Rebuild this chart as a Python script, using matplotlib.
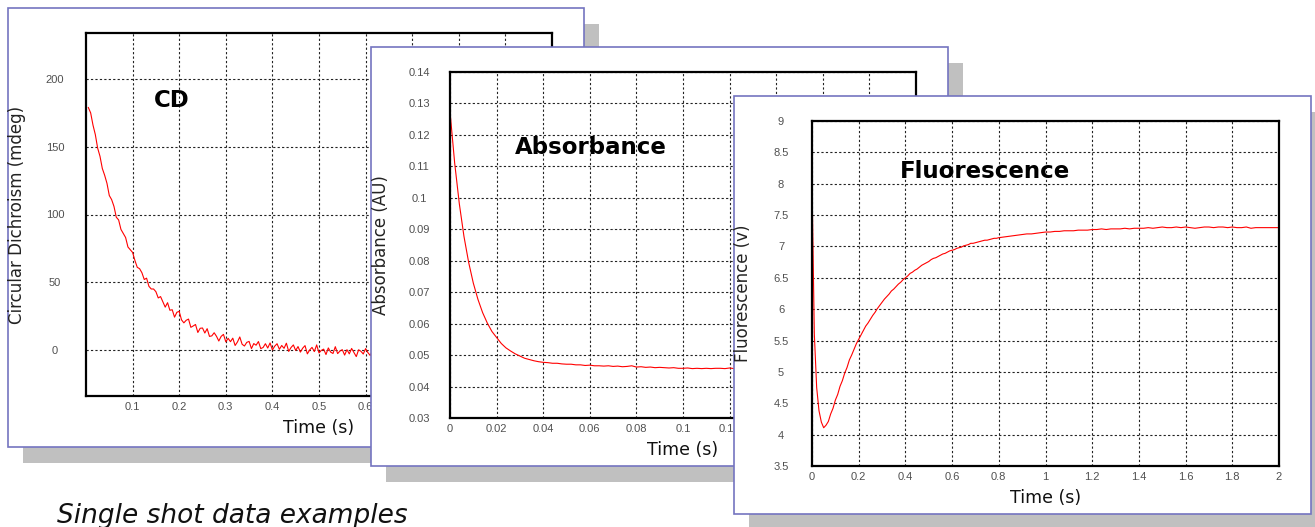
import numpy as np
import matplotlib
matplotlib.use("Agg")
import matplotlib.pyplot as plt
from matplotlib.patches import Rectangle
from matplotlib.ticker import FixedLocator, FuncFormatter

# ---------------------------------------------------------------- data
# Circular dichroism trace (mdeg), sampled every 5 ms
cd_time = np.arange(1, 201) * 0.005
cd_signal = [
    179, 175, 166, 159, 149, 143, 134, 129, 123, 114,
    111, 106, 98, 96, 89, 86, 83, 76, 74, 72,
    66, 61, 60, 57, 52, 53, 47, 45, 45, 43,
    38.4, 39.4, 35.5, 31.6, 34.9, 29.3, 29.7, 24.2, 27.8, 28.5,
    22.2, 20, 21.9, 22.8, 16.7, 17.7, 18.8, 12.9, 16, 16.2,
    12.5, 15.7, 10, 10.4, 12.7, 10.1, 6.6, 10, 11.5, 6,
    8.6, 6.1, 8.7, 3.3, 5.9, 9.6, 4.2, 2.9, 5.6, 6.3,
    1, 4.7, 3.5, 6.2, 1, 1.8, 4.6, 1.4, 5.2, 0,
    2.8, 4.6, 0.5, 3.3, 1.2, 5.0, -1.1, 1.8, 3.7, -0.4,
    2.5, -1.6, 1.3, 3.2, -2.9, 0, 1.9, -1.2, 3.7, -2.2,
    -0.3, 0.6, -3.4, 1.5, -1.6, -2.6, 2.4, -2.7, -0.8, 0.2,
    -3.8, 0.2, -2.9, 1.1, -1.9, -4.9, 0.1, -1, -3, 1,
    -2, -4.1, -0.1, -3.1, 1.9, -2.2, -3.2, -1.2, -5.2, -0.2,
    -2.3, 0.7, -4.3, -1.3, -3.3, -0.3, -2.3, -4.3, 0.7, -3.3,
    -1.4, -2.4, -5.4, -0.4, -3.4, 0.6, -4.4, -2.4, -0.4, -3.4,
    -2.5, -4.5, -1.5, 0.5, -3.5, -2.5, -5.5, -0.5, -3.5, -1.5,
    -0.5, -4.5, -2.5, 0.5, -3.5, -1.5, -4.5, -0.5, -2.5, -3.5,
    0.5, -2.5, -4.5, -1.5, -3.5, -0.5, -2.5, -5.5, -1.5, -2.5,
    -0.5, -3.5, -1.5, -4.5, 0.5, -2.5, -3.5, -0.5, -4.5, -1.5,
    -2.5, 0.5, -3.5, -2.5, -0.5, -4.5, -1.5, -2.5, 0.5, -3.5,
]

# Absorbance trace (AU), sampled every 2 ms
abs_time = np.arange(101) * 0.002
abs_signal = [
    0.1274, 0.1111, 0.0981, 0.0877, 0.0795, 0.0729, 0.0677, 0.0635, 0.0602, 0.0575,
    0.0556, 0.0537, 0.0523, 0.0513, 0.0504, 0.0497, 0.0490, 0.0486, 0.0482, 0.0479,
    0.0477, 0.0476, 0.0474, 0.0474, 0.0472, 0.0471, 0.0471, 0.0469, 0.0469, 0.0467,
    0.0468, 0.0466, 0.0466, 0.0465, 0.0466, 0.0464, 0.0465, 0.0463, 0.0464, 0.0466,
    0.0462, 0.0463, 0.0461, 0.0462, 0.0460, 0.0461, 0.0460, 0.0459, 0.0460, 0.0458,
    0.0458, 0.0459, 0.0457, 0.0458, 0.0457, 0.0458, 0.0457, 0.0458, 0.0458, 0.0457,
    0.0459, 0.0457, 0.0458, 0.0456, 0.0458, 0.0457, 0.0457, 0.0458, 0.0456, 0.0457,
    0.0458, 0.0457, 0.0456, 0.0458, 0.0457, 0.0457, 0.0456, 0.0458, 0.0457, 0.0456,
    0.0457, 0.0458, 0.0456, 0.0457, 0.0457, 0.0456, 0.0458, 0.0457, 0.0456, 0.0457,
    0.0457, 0.0456, 0.0458, 0.0457, 0.0456, 0.0457, 0.0456, 0.0457, 0.0457, 0.0456,
    0.0457,
]

# Fluorescence trace (V): 10 ms steps up to 0.8 s, then 20 ms steps
fluo_time = np.concatenate([np.arange(81) * 0.01, 0.8 + np.arange(1, 61) * 0.02])
fluo_signal = [
    8.00, 5.60, 4.75, 4.38, 4.20, 4.11, 4.15, 4.21, 4.33, 4.42,
    4.55, 4.64, 4.77, 4.86, 4.98, 5.07, 5.19, 5.27, 5.36, 5.45,
    5.52, 5.59, 5.66, 5.73, 5.78, 5.84, 5.90, 5.95, 6.01, 6.06,
    6.11, 6.16, 6.20, 6.24, 6.29, 6.32, 6.36, 6.40, 6.43, 6.47,
    6.50, 6.53, 6.57, 6.59, 6.62, 6.64, 6.67, 6.70, 6.72, 6.74,
    6.76, 6.79, 6.81, 6.82, 6.84, 6.86, 6.88, 6.89, 6.91, 6.93,
    6.94, 6.95, 6.97, 6.98, 6.99, 7.01, 7.02, 7.03, 7.05, 7.05,
    7.06, 7.07, 7.08, 7.09, 7.10, 7.10, 7.11, 7.12, 7.13, 7.13,
    7.14,
    7.15, 7.16, 7.17, 7.18, 7.19, 7.20, 7.20, 7.21, 7.22, 7.23,
    7.23, 7.24, 7.24, 7.25, 7.25, 7.25, 7.26, 7.26, 7.26, 7.27,
    7.27, 7.28, 7.27, 7.28, 7.28, 7.28, 7.29, 7.28, 7.29, 7.29,
    7.29, 7.30, 7.29, 7.30, 7.31, 7.30, 7.30, 7.31, 7.30, 7.31,
    7.30, 7.29, 7.30, 7.31, 7.31, 7.30, 7.31, 7.31, 7.30, 7.31,
    7.30, 7.30, 7.31, 7.29, 7.30, 7.30, 7.30, 7.30, 7.30, 7.30,
]

# labelled ticks (the cards further right cover the rest of each grid)
cd_xticks = [0.1, 0.2, 0.3, 0.4, 0.5, 0.6]
cd_xgrid = [0.7, 0.8, 0.9]
cd_yticks = [0, 50, 100, 150, 200]
abs_xticks = [0, 0.02, 0.04, 0.06, 0.08, 0.1, 0.12]
abs_xgrid = [0.14, 0.16, 0.18]
abs_yticks = [0.03, 0.04, 0.05, 0.06, 0.07, 0.08, 0.09, 0.1, 0.11, 0.12, 0.13, 0.14]
fluo_xticks = [0, 0.2, 0.4, 0.6, 0.8, 1, 1.2, 1.4, 1.6, 1.8, 2]
fluo_xgrid = []
fluo_yticks = [3.5, 4, 4.5, 5, 5.5, 6, 6.5, 7, 7.5, 8, 8.5, 9]

# ---------------------------------------------------------------- layout
W, H = 1315, 527
fig = plt.figure(figsize=(W / 100, H / 100), dpi=100)
fig.patch.set_facecolor("white")


def px_rect(x0, y0, x1, y1):
    return (x0 / W, 1 - y1 / H, (x1 - x0) / W, (y1 - y0) / H)


def card(frame, z, shadow=(15, 16)):
    x0, y0, x1, y1 = frame
    sx, sy = shadow
    l, b, w, h = px_rect(x0 + sx, y0 + sy, x1 + sx, y1 + sy)
    fig.add_artist(Rectangle((l, b), w, h, transform=fig.transFigure,
                             facecolor="#c0c0c0", edgecolor="none", zorder=z))
    l, b, w, h = px_rect(x0, y0, x1, y1)
    fig.add_artist(Rectangle((l, b), w, h, transform=fig.transFigure,
                             facecolor="white", edgecolor="#7474c0",
                             linewidth=1.2, zorder=z + 1))


fmt = FuncFormatter(lambda v, p: f"{v:g}")
grid_style = dict(color="#222222", linestyle=(0, (2, 2)), linewidth=0.8, zorder=0.5)


def panel(box, z, t, y, xticks, xgrid, yticks, xlim, ylim, ylabel, title, title_pos):
    x0, y0, x1, y1 = box
    wpx, hpx = x1 - x0, y1 - y0
    ax = fig.add_axes(px_rect(*box))
    ax.set_zorder(z)
    ax.set_facecolor("white")
    ax.plot(t, y, color="#ff0000", linewidth=0.8, zorder=2)
    ax.set_xlim(*xlim)
    ax.set_ylim(*ylim)
    ax.xaxis.set_major_locator(FixedLocator(xticks))
    ax.yaxis.set_major_locator(FixedLocator(yticks))
    ax.xaxis.set_major_formatter(fmt)
    ax.yaxis.set_major_formatter(fmt)
    ax.grid(True, **{k: v for k, v in grid_style.items() if k != "zorder"})
    for gx in xgrid:
        ax.axvline(gx, **grid_style)
    ax.set_axisbelow(True)
    for s in ax.spines.values():
        s.set_linewidth(1.6)
        s.set_color("black")
        s.set_zorder(5)
    ax.tick_params(length=0, labelsize=8, labelcolor="#505050")
    ax.tick_params(axis="y", pad=22.3)
    ax.tick_params(axis="x", pad=4)
    for lab in ax.get_xticklabels() + ax.get_yticklabels():
        lab.set_fontfamily("Liberation Sans")
    for lab in ax.get_yticklabels():
        lab.set_horizontalalignment("center")
    ax.text(-69 / wpx, 0.5, ylabel, transform=ax.transAxes, rotation=90,
            ha="center", va="center", fontsize=12, color="#222222",
            family="DejaVu Sans")
    ax.text(0.5, -32 / hpx, "Time (s)", transform=ax.transAxes,
            ha="center", va="center", fontsize=12.5, color="#111111",
            family="DejaVu Sans")
    ax.text(title_pos[0], title_pos[1], title, transform=ax.transAxes,
            ha="left", va="baseline", fontsize=16.5, fontweight="bold",
            family="DejaVu Sans", color="black")
    return ax


# CD card
card((8, 8, 584, 447), 10)
panel((86, 33, 552, 396), 12, cd_time, cd_signal, cd_xticks, cd_xgrid, cd_yticks,
      (0, 1.0), (-34, 234), "Circular Dichroism (mdeg)", "CD", (0.146, 0.796))

# Absorbance card
card((371, 47, 948, 466), 20)
panel((450, 72, 916, 418), 22, abs_time, abs_signal, abs_xticks, abs_xgrid, abs_yticks,
      (0, 0.2), (0.03, 0.14), "Absorbance (AU)", "Absorbance", (0.139, 0.763))

# Fluorescence card
card((734, 96, 1311, 514), 30)
panel((812, 121, 1279, 466), 32, fluo_time, fluo_signal, fluo_xticks, fluo_xgrid,
      fluo_yticks, (0, 2), (3.5, 9), "Fluorescence (v)", "Fluorescence",
      (0.188, 0.835))

fig.text(57 / W, 1 - 523 / H, "Single shot data examples", fontsize=19,
         style="italic", ha="left", va="baseline", color="#111111",
         family="DejaVu Sans", zorder=40)

fig.savefig("out.png", dpi=100, facecolor="white")
